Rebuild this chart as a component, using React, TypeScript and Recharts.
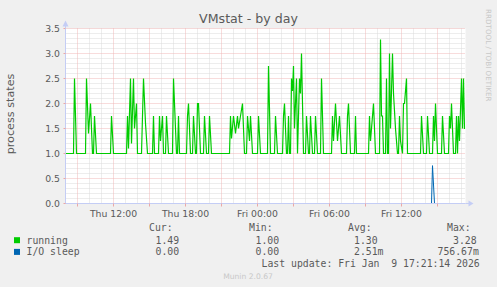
import { CartesianGrid, Line, LineChart, ReferenceDot, XAxis, YAxis } from 'recharts';

// Samples are 5 minute steps counted from Thu 08:00
const START_HOUR = 8;
const STEPS_PER_HOUR = 12;
const END_HOUR = START_HOUR + 400 / STEPS_PER_HOUR;

// [step, value] knots of the "running" series
const runningPoints: [number, number][] = [
  [0, 1], [8, 1], [9, 2.5], [11, 1],
  [20, 1], [21, 2.5], [23, 1.4], [25, 2.0], [27, 1], [28, 1], [29, 1.75], [31, 1],
  [45, 1], [46, 1.75], [48, 1],
  [61, 1], [62, 1.75], [63, 1.1], [65, 2.5], [66, 1.2], [68, 2.5], [69, 1.5], [71, 2.0], [72, 1],
  [76, 1], [77, 1.75], [78, 2.5], [80, 1.6], [82, 1],
  [87, 1], [88, 1.75], [89, 1],
  [93, 1], [94, 1.75], [95, 1.25], [97, 1.75], [98, 1],
  [100, 1], [101, 1.75], [103, 1],
  [107, 1], [108, 2.5], [111, 1], [112, 1], [113, 1.75], [114, 1],
  [121, 1], [122, 1.75], [123, 2.0], [125, 1],
  [127, 1], [128, 1.75], [130, 1], [131, 1], [132, 2.0], [133, 2.0], [135, 1],
  [138, 1], [139, 1.75], [141, 1],
  [143, 1], [144, 1.75], [146, 1],
  [164, 1], [165, 1.75], [166, 1.3], [168, 1.75], [170, 1.4], [172, 1.75], [173, 1.5], [175, 1.75], [177, 2.0], [179, 1],
  [181, 1], [182, 1.75], [184, 1.25], [185, 1.75], [187, 1],
  [192, 1], [193, 1.75], [195, 1],
  [202, 1], [203, 2.75], [205, 1],
  [209, 1], [210, 1.75], [212, 1],
  [217, 1], [218, 1.75], [219, 2.0], [221, 1],
  [222, 1], [223, 1.75], [224, 1], [225, 1], [226, 2.5], [227, 2.25], [228, 2.75], [229, 1.5], [231, 2.5], [232, 1],
  [234, 2.5], [235, 2.2], [236, 3.0], [237, 2.0], [238, 1],
  [240, 1], [241, 1.75], [243, 1],
  [244, 1], [245, 1.75], [247, 1],
  [249, 1], [250, 1.75], [252, 1],
  [255, 1], [256, 2.5], [258, 1],
  [266, 1], [267, 1.75], [268, 1.25], [270, 2.0], [272, 1.25], [274, 1.75], [276, 1],
  [281, 1], [282, 1.75], [283, 2.0], [285, 1],
  [289, 1], [290, 1.75], [291, 1],
  [303, 1], [304, 1.75], [305, 1.25], [307, 1.75], [308, 2.0], [310, 1],
  [314, 1], [315, 3.28], [316, 1.75], [317, 1.75], [318, 1], [320, 1], [321, 2.5], [322, 1],
  [323, 1], [324, 3.0], [325, 1.5], [327, 3.0], [328, 2.2], [330, 1.5], [331, 1.25], [332, 1], [333, 1],
  [334, 1.75], [335, 1.25], [337, 1], [338, 2.0], [339, 2.0], [341, 2.5], [342, 1],
  [355, 1], [356, 1.75], [358, 1],
  [361, 1], [362, 1.75], [364, 1],
  [367, 1], [368, 1.75], [369, 1.25], [370, 2.0], [372, 1],
  [376, 1], [377, 1.75], [379, 1],
  [383, 1], [384, 1.75], [385, 1.5], [386, 2.0], [388, 1],
  [390, 1], [391, 1.75], [392, 1], [393, 1.75], [394, 1.25], [396, 2.5], [397, 1.5], [398, 2.5], [399, 1.49],
];

// [step, value] knots of the "I/O sleep" series
const ioSleepPoints: [number, number][] = [
  [0, 0], [366, 0], [367, 0.757], [369, 0], [399, 0],
];

const xMajorHours = [9, 12, 15, 18, 21, 24, 27, 30, 33, 36, 39];
const xMinorHours = [10, 11, 13, 14, 16, 17, 19, 20, 22, 23, 25, 26, 28, 29, 31, 32, 34, 35, 37, 38, 40, 41];
const xLabelHours = [12, 18, 24, 30, 36];
const xLabelTexts = ['Thu 12:00', 'Thu 18:00', 'Fri 00:00', 'Fri 06:00', 'Fri 12:00'];

const yMajorTicks = [0, 0.5, 1.0, 1.5, 2.0, 2.5, 3.0, 3.5];
const yMinorValues = [
  0.1, 0.2, 0.3, 0.4, 0.6, 0.7, 0.8, 0.9, 1.1, 1.2, 1.3, 1.4, 1.6, 1.7, 1.8, 1.9,
  2.1, 2.2, 2.3, 2.4, 2.6, 2.7, 2.8, 2.9, 3.1, 3.2, 3.3, 3.4,
];

const legendHeaders = ['Cur:', 'Min:', 'Avg:', 'Max:'];
const legendRows = [
  { name: 'running', color: '#00cc00', values: ['1.49', '1.00', '1.30', '3.28'] },
  { name: 'I/O sleep', color: '#0066b3', values: ['0.00', '0.00', '2.51m', '756.67m'] },
];

const toSeries = (pts: [number, number][]) =>
  pts.map(([step, v]) => ({ t: START_HOUR + step / STEPS_PER_HOUR, v }));

const AXIS_COLOR = '#c4cdf5';
const FONT_COLOR = '#5a5a5a';
const SANS = '"DejaVu Sans", sans-serif';
const MONO = '"DejaVu Sans Mono", monospace';

const XArrow = (props: any) => {
  const { cx, cy } = props;
  return (
    <g>
      <line x1={cx} y1={cy} x2={cx + 4} y2={cy} stroke={AXIS_COLOR} />
      <path d={`M${cx + 3},${cy - 3} L${cx + 8},${cy} L${cx + 3},${cy + 3} Z`} fill={AXIS_COLOR} />
    </g>
  );
};

const YArrow = (props: any) => {
  const { cx, cy } = props;
  return (
    <g>
      <line x1={cx} y1={cy} x2={cx} y2={cy - 4} stroke={AXIS_COLOR} />
      <path d={`M${cx - 3},${cy - 2} L${cx},${cy - 8} L${cx + 3},${cy - 2} Z`} fill={AXIS_COLOR} />
    </g>
  );
};

// column x positions of the legend (left edge of text)
const headerX = [149, 249, 348, 447];
const valueX = [[155.5, 255.5, 354, 453], [155.5, 255.5, 354, 437.5]];

export default function App() {
  const running = toSeries(runningPoints);
  const ioSleep = toSeries(ioSleepPoints);

  return (
    <div style={{ position: 'absolute', left: 0, top: 0, width: 497, height: 287, background: '#f0f0f0', overflow: 'hidden' }}>
      <LineChart width={497} height={287} margin={{ top: 28.5, right: 31.5, bottom: 63.5, left: 5.5 }}>
        <CartesianGrid
          fill="#ffffff"
          stroke="#dadada"
          strokeDasharray="1 1"
          horizontalValues={yMinorValues}
          verticalValues={xMinorHours}
        />
        <CartesianGrid
          stroke="#f0b8b8"
          strokeDasharray="1 1"
          horizontalValues={yMajorTicks}
          verticalValues={xMajorHours}
        />
        <Line
          data={running}
          dataKey="v"
          type="linear"
          stroke="#00cc00"
          strokeWidth={1.2}
          dot={false}
          activeDot={false}
          isAnimationActive={false}
        />
        <Line
          data={ioSleep}
          dataKey="v"
          type="linear"
          stroke="#0066b3"
          strokeWidth={1}
          dot={false}
          activeDot={false}
          isAnimationActive={false}
        />
        <XAxis
          type="number"
          dataKey="t"
          domain={[START_HOUR, END_HOUR]}
          allowDataOverflow
          ticks={xMajorHours}
          interval={0}
          tickFormatter={(h: number) => {
            const idx = xLabelHours.indexOf(h);
            return idx >= 0 ? xLabelTexts[idx] : '';
          }}
          height={20}
          tickSize={3}
          tickMargin={3.4}
          axisLine={{ stroke: AXIS_COLOR }}
          tickLine={{ stroke: '#eba7a7' }}
          tick={{ fontSize: 9.3, fill: FONT_COLOR, fontFamily: SANS }}
        />
        <YAxis
          type="number"
          domain={[0, 3.5]}
          allowDataOverflow
          ticks={yMajorTicks}
          interval={0}
          tickFormatter={(v: number) => v.toFixed(1)}
          width={60}
          tickSize={2}
          tickMargin={3.5}
          axisLine={{ stroke: AXIS_COLOR }}
          tickLine={{ stroke: '#eba7a7' }}
          tick={{ fontSize: 9.3, fill: FONT_COLOR, fontFamily: SANS }}
        />
        <ReferenceDot x={END_HOUR} y={0} r={0} ifOverflow="visible" shape={XArrow} />
        <ReferenceDot x={START_HOUR} y={3.5} r={0} ifOverflow="visible" shape={YArrow} />
      </LineChart>

      <svg width={497} height={287} style={{ position: 'absolute', left: 0, top: 0, pointerEvents: 'none' }}>
        <text x={248.5} y={23.3} textAnchor="middle" fontFamily={SANS} fontSize={12.6} fill={FONT_COLOR}>
          VMstat - by day
        </text>
        <text
          x={14}
          y={114}
          textAnchor="middle"
          transform="rotate(-90 14 114)"
          fontFamily={SANS}
          fontSize={11.2}
          fill={FONT_COLOR}
        >
          process states
        </text>
        <text
          x={485.5}
          y={9}
          transform="rotate(90 485.5 9)"
          fontFamily={SANS}
          fontSize={7.2}
          fill="#c8c8c8"
        >
          RRDTOOL / TOBI OETIKER
        </text>

        {legendHeaders.map((h, i) => (
          <text key={h} x={headerX[i]} y={230.8} fontFamily={MONO} fontSize={9.8} fill={FONT_COLOR}>
            {h}
          </text>
        ))}
        {legendRows.map((row, r) => {
          const base = 243.5 + r * 11.7;
          return (
            <g key={row.name}>
              <rect x={14} y={base - 6.3} width={6} height={6} fill={row.color} />
              <text x={26.5} y={base} fontFamily={MONO} fontSize={9.8} fill={FONT_COLOR}>
                {row.name}
              </text>
              {row.values.map((v, i) => (
                <text key={i} x={valueX[r][i]} y={base} fontFamily={MONO} fontSize={9.8} fill={FONT_COLOR}>
                  {v}
                </text>
              ))}
            </g>
          );
        })}
        <text x={261.5} y={266.8} fontFamily={MONO} fontSize={9.8} fill={FONT_COLOR} style={{ whiteSpace: 'pre' }}>
          {'Last update: Fri Jan  9 17:21:14 2026'}
        </text>
        <text x={248} y={278.7} textAnchor="middle" fontFamily={SANS} fontSize={7.6} fill="#c8c8c8">
          Munin 2.0.67
        </text>
      </svg>
    </div>
  );
}
